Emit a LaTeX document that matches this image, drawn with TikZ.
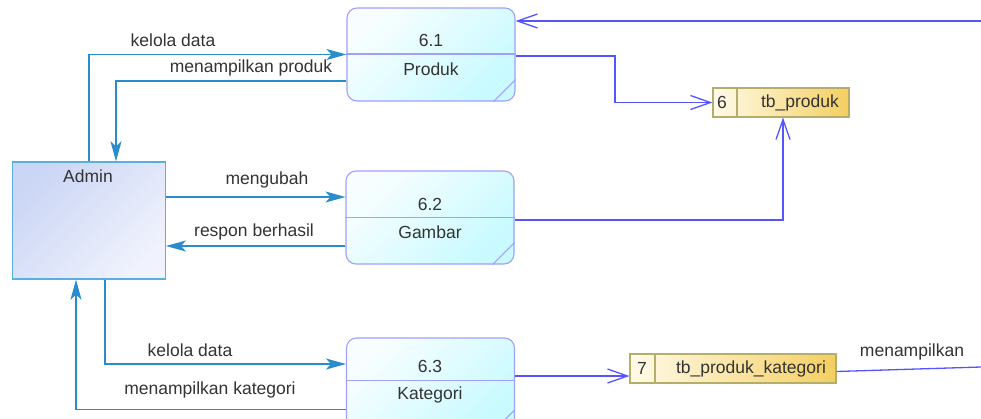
\documentclass[tikz,border=0pt]{standalone}
\usepackage{fontspec}
\setmainfont{Liberation Sans}
\usetikzlibrary{arrows.meta,calc}
\definecolor{txt}{HTML}{333333}
\definecolor{procborder}{HTML}{A0A0F6}
\definecolor{procA}{HTML}{F8FEFF}
\definecolor{procB}{HTML}{C8FAFF}
\definecolor{admA}{HTML}{CBD6F5}
\definecolor{admB}{HTML}{F0F2FD}
\definecolor{admborder}{HTML}{5AAEE0}
\definecolor{stA}{HTML}{FFFBEA}
\definecolor{stB}{HTML}{F4CF60}
\definecolor{stborder}{HTML}{B5AD6A}
\definecolor{flowa}{HTML}{2A8CCB}
\definecolor{flows}{HTML}{5555FF}
\tikzset{
  proc/.style={draw=procborder, line width=1.1pt, rounded corners=10pt,
    top color=procA, bottom color=procB, shading angle=45,
    minimum width=168pt, minimum height=93pt, inner sep=0pt},
  extent/.style={draw=admborder, line width=1.3pt,
    top color=admA, bottom color=admB, shading angle=45,
    minimum width=153pt, minimum height=117pt, inner sep=0pt},
  storebox/.style={draw=stborder, line width=1.1pt,
    left color=stA, right color=stB,
    minimum height=29pt, inner sep=0pt},
  divline/.style={draw=procborder, line width=1.1pt},
  stdiv/.style={draw=stborder, line width=1.1pt},
  flowA/.style={draw=flowa, line width=1.6pt, -{Stealth[length=20pt,width=11pt,inset=5pt]}},
  flowS/.style={draw=flows, line width=1.3pt, -{Straight Barb[length=20pt,width=14pt,line width=1.3pt]}},
  flowSn/.style={draw=flows, line width=1.3pt},
  lbl/.style={text=txt, font=\fontsize{17.5}{20}\selectfont, inner sep=0pt, anchor=center},
}
\begin{document}
\begin{tikzpicture}[x=1pt,y=-1pt]
\useasboundingbox (0,0) rectangle (981,418);
\clip (0,0) rectangle (981,418);
\fill[white] (0,0) rectangle (981,418);

% Admin
\node[extent] (admin) at (88.8,220.5) {};
\node[lbl] (admintxt) at (88,176) {Admin};

% Processes
\node[proc] (p1) at (431,54.5) {};
\node[proc] (p2) at (430,217.5) {};
\node[proc] (p3) at (430.5,384.5) {};
\coordinate (d1) at (0,54);
\coordinate (d2) at (0,217.5);
\coordinate (d3) at (0,380.5);
\draw[divline] (p1.west |- d1) -- (p1.east |- d1);
\draw[divline] (p2.west |- d2) -- (p2.east |- d2);
\draw[divline] (p3.west |- d3) -- (p3.east |- d3);
\foreach \p in {p1,p2,p3}{
  \draw[divline] ($(\p.south east)+(-22,0)$) -- ($(\p.south east)+(0,-22)$);
}
\node[lbl] (p1id) at (431,40) {6.1};
\node[lbl] (p1nm) at (431,69) {Produk};
\node[lbl] (p2id) at (430,204) {6.2};
\node[lbl] (p2nm) at (430,232) {Gambar};
\node[lbl] (p3id) at (430,366) {6.3};
\node[lbl] (p3nm) at (430,395) {Kategori};

% Data stores
\node[storebox, minimum width=136pt] (s1) at (781,102.5) {};
\node[storebox, minimum width=206pt] (s2) at (733,368.5) {};
\coordinate (sd1) at (737,0);
\coordinate (sd2) at (655,0);
\draw[stdiv] (s1.north -| sd1) -- (s1.south -| sd1);
\draw[stdiv] (s2.north -| sd2) -- (s2.south -| sd2);
\node[lbl] (s1id) at (722,102.5) {6};
\node[lbl] (s1nm) at (800,102.5) {tb\_produk};
\node[lbl] (s2id) at (642,368.5) {7};
\node[lbl] (s2nm) at (751,368.5) {tb\_produk\_kategori};

% Admin flows
\draw[flowA] (admin.north) |- (p1.west);
\node[lbl] (l1) at (173,40) {kelola data};

\coordinate (c2) at (116,81);
\draw[flowA] (p1.west |- c2) -- (c2) -- (c2 |- admin.north);
\node[lbl] (l2) at (251,68) {menampilkan produk};

\coordinate (c3) at (0,197);
\draw[flowA] (admin.east |- c3) -- (p2.west |- c3);
\node[lbl] (l3) at (267,180) {mengubah};

\coordinate (c4) at (0,246);
\draw[flowA] (p2.west |- c4) -- (admin.east |- c4);
\node[lbl] (l4) at (254,232) {respon berhasil};

\coordinate (c5) at (105,364);
\draw[flowA] (c5 |- admin.south) -- (c5) -- (p3.west |- c5);
\node[lbl] (l5) at (190,350) {kelola data};

\coordinate (c6) at (76,409.5);
\draw[flowA] (p3.west |- c6) -- (c6) -- (c6 |- admin.south);
\node[lbl] (l6) at (210,390) {menampilkan kategori};

% Store flows
\coordinate (e7) at (981,21);
\draw[flowS] (e7) -- (p1.east |- e7);

\coordinate (c8) at (615,56);
\draw[flowS] (p1.east |- c8) -- (c8) |- (s1.west);

\coordinate (c9) at (783,220);
\draw[flowS] (p2.east |- c9) -- (c9) -- (c9 |- s1.south);

\coordinate (c10) at (0,376);
\draw[flowS] (p3.east |- c10) -- (s2.west |- c10);

\coordinate (e11) at (981,367);
\draw[flowSn] ($(s2.east)+(0,3)$) -- (e11);
\node[lbl] (l11) at (912,352) {menampilkan};
\end{tikzpicture}
\end{document}
